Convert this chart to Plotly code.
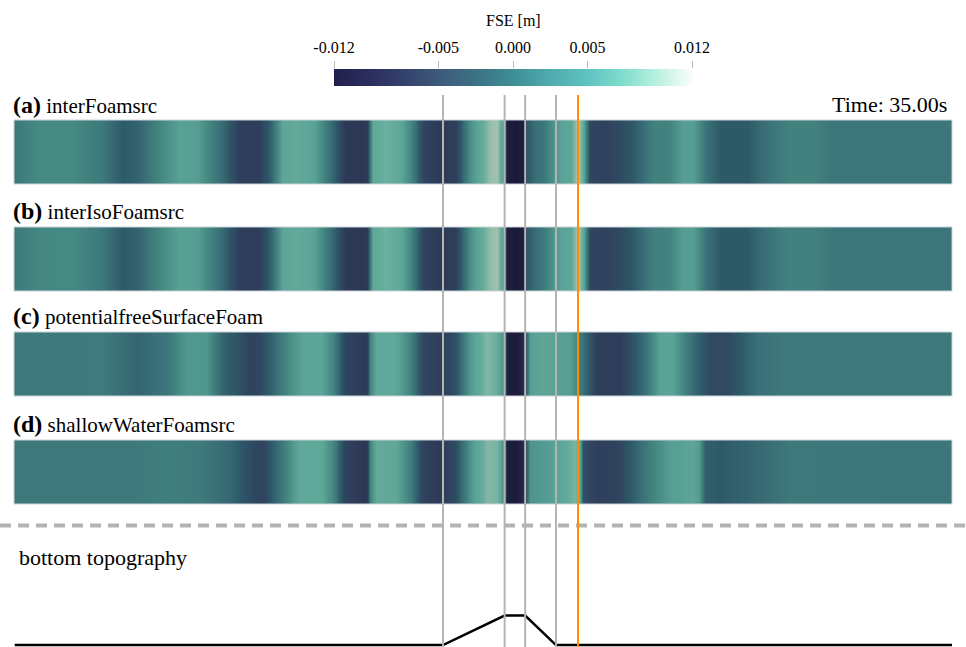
import plotly.graph_objects as go

W, H = 966, 647

# ---------------- data ----------------
# channel position [m] of the gauges / bar breakpoints (grey lines) and probe (orange)
gauge_x = [6.0, 12.0, 14.0, 17.0]
probe_x = 19.15
channel_range = [-35.77, 55.56]

# bottom topography (bar) [m]
bar_x = [-35.7, 6.0, 12.0, 14.0, 17.0, 55.56]
bar_z = [0.0, 0.0, 0.3, 0.3, 0.0, 0.0]

# colour bar ticks
cbar_ticks = [-0.012, -0.005, 0.0, 0.005, 0.012]
cbar_ticktext = ["-0.012", "-0.005", "0.000", "0.005", "0.012"]
cbar_range = [-0.012, 0.012]

# free surface elevation along the channel, read per solver
x_a = [-35.77, -33.53, -29.93, -27.40, -25.16, -23.50, -22.14, -19.71, -17.95, -15.52,
       -13.77, -11.92, -10.85, -9.58, -8.31, -6.56, -4.71, -3.54, -1.79, -1.40,
       -1.11, -0.82, 0.35, 1.52, 2.79, 4.05, 5.42, 7.17, 8.63, 9.60,
       10.57, 11.26, 11.84, 12.23, 13.01, 13.79, 14.18, 15.05, 15.74, 16.42,
       17.49, 18.37, 19.15, 19.63, 20.31, 21.68, 23.24, 24.50, 26.45, 28.10,
       29.37, 30.34, 31.70, 32.97, 35.60, 36.87, 39.50, 42.03, 43.98, 55.56]
fse_a = [-0.0012, 0.0004, 0.0004, -0.0010, -0.0040, -0.0030, -0.0005, 0.0028, 0.0025, -0.0025,
         -0.0070, -0.0070, -0.0035, 0.0035, 0.0045, 0.0030, -0.0030, -0.0075, -0.0080, -0.0075,
         -0.0010, 0.0040, 0.0055, 0.0045, 0.0005, -0.0060, -0.0075, -0.0070, 0.0010, 0.0040,
         0.0075, 0.0080, 0.0020, -0.0105, -0.0115, -0.0100, -0.0040, -0.0020, -0.0015, 0.0005,
         0.0030, 0.0035, 0.0090, 0.0040, -0.0060, -0.0065, -0.0055, -0.0040, -0.0005, 0.0000,
         0.0025, 0.0025, -0.0020, -0.0040, -0.0040, -0.0025, -0.0003, -0.0003, -0.0015, -0.0015]

x_b = x_a
fse_b = [-0.0012, 0.0003, 0.0004, -0.0010, -0.0040, -0.0030, -0.0005, 0.0027, 0.0025, -0.0025,
         -0.0070, -0.0070, -0.0035, 0.0035, 0.0045, 0.0030, -0.0030, -0.0075, -0.0080, -0.0075,
         -0.0010, 0.0040, 0.0055, 0.0045, 0.0005, -0.0060, -0.0075, -0.0070, 0.0010, 0.0040,
         0.0072, 0.0080, 0.0020, -0.0105, -0.0115, -0.0100, -0.0040, -0.0020, -0.0012, 0.0008,
         0.0030, 0.0035, 0.0088, 0.0040, -0.0060, -0.0065, -0.0055, -0.0040, -0.0005, 0.0000,
         0.0025, 0.0025, -0.0020, -0.0040, -0.0040, -0.0025, -0.0003, -0.0003, -0.0015, -0.0015]

x_c = [-35.77, -27.40, -23.80, -20.97, -18.90, -17.10, -15.52, -12.80, -11.92, -8.90,
       -7.44, -5.98, -4.71, -3.54, -1.79, -1.40, -1.11, -0.43, 1.23, 2.79,
       4.05, 5.71, 7.17, 8.63, 10.28, 11.26, 11.84, 12.23, 13.01, 13.79,
       14.47, 15.74, 17.10, 18.37, 19.63, 21.00, 23.24, 25.67, 27.13, 28.30,
       30.34, 32.00, 33.66, 36.70, 39.79, 55.56]
fse_c = [-0.0012, -0.0009, -0.0030, -0.0015, 0.0018, 0.0018, -0.0030, -0.0062, -0.0060, 0.0010,
         0.0035, 0.0035, 0.0000, -0.0060, -0.0075, -0.0070, 0.0000, 0.0040, 0.0040, 0.0000,
         -0.0060, -0.0070, -0.0050, 0.0020, 0.0065, 0.0050, 0.0010, -0.0100, -0.0115, -0.0090,
         0.0025, 0.0035, 0.0028, 0.0025, -0.0020, -0.0070, -0.0070, -0.0020, 0.0030, 0.0030,
         -0.0025, -0.0055, -0.0055, -0.0020, -0.0010, -0.0012]

x_d = [-35.77, -24.20, -20.97, -17.37, -14.60, -12.20, -11.40, -8.90, -7.93, -5.98,
       -4.71, -3.54, -1.79, -1.40, -1.11, -0.43, 1.23, 2.79, 4.05, 5.71,
       7.17, 8.63, 10.28, 11.26, 11.84, 12.23, 13.01, 13.79, 14.47, 16.42,
       17.68, 18.85, 19.34, 19.63, 21.00, 23.24, 25.86, 28.10, 30.34, 30.93,
       31.51, 32.97, 35.89, 39.79, 55.56]
fse_d = [-0.0012, -0.0012, -0.0005, -0.0012, -0.0030, -0.0062, -0.0060, 0.0010, 0.0040, 0.0040,
         0.0000, -0.0065, -0.0080, -0.0075, 0.0000, 0.0045, 0.0040, -0.0005, -0.0065, -0.0075,
         -0.0055, 0.0015, 0.0065, 0.0060, 0.0010, -0.0105, -0.0115, -0.0090, 0.0015, 0.0025,
         0.0040, 0.0060, 0.0030, -0.0050, -0.0070, -0.0060, -0.0010, 0.0025, 0.0032, 0.0020,
         -0.0035, -0.0040, -0.0030, -0.0012, -0.0015]

solver_letters = ["(a)", "(b)", "(c)", "(d)"]
solver_names = ["interFoamsrc", "interIsoFoamsrc", "potentialfreeSurfaceFoam", "shallowWaterFoamsrc"]
time_label = "Time: 35.00s"

# ---------------- styling ----------------
FONT = "Liberation Serif"

def cs_from(stops, vmin=-0.012, vmax=0.012):
    return [[(v - vmin) / (vmax - vmin), c] for v, c in stops]

bar_colorscale = cs_from([
    (-0.012, "#221f4d"), (-0.0096, "#2b2f5e"), (-0.0072, "#34436c"), (-0.005, "#3d5a7c"),
    (-0.0022, "#3b7585"), (0.0, "#3f8e96"), (0.0022, "#4ea8ac"), (0.005, "#5fc3c0"),
    (0.0072, "#7ddccc"), (0.009, "#a8ecda"), (0.0108, "#daf6ec"), (0.012, "#fafefb")])

strip_colorscale = cs_from([
    (-0.012, "#1a1736"), (-0.010, "#1f2142"), (-0.008, "#2d3754"), (-0.006, "#2f4560"),
    (-0.004, "#2e5a68"), (-0.002, "#3a7078"), (-0.001, "#3e7a7c"), (0.0, "#43847f"),
    (0.002, "#52998f"), (0.003, "#5aa396"), (0.005, "#66ac9c"), (0.007, "#8ebaa8"),
    (0.009, "#b8c8b8"), (0.012, "#dfe3d6")])

def py(px):
    return 1 - px / H

strip_tops = [120, 227, 332, 440]
strip_h = 64
label_mid = [105, 211, 316, 424]

fig = go.Figure()

strips = [(x_a, fse_a), (x_b, fse_b), (x_c, fse_c), (x_d, fse_d)]
yaxes = ["y", "y2", "y3", "y4"]
for (xs, zs), ya in zip(strips, yaxes):
    fig.add_trace(go.Heatmap(
        x=xs, y=[0, 1], z=[zs, zs], xaxis="x", yaxis=ya,
        colorscale=strip_colorscale, zmin=cbar_range[0], zmax=cbar_range[1],
        zsmooth="best", showscale=False, hoverinfo="skip"))

# topography
fig.add_trace(go.Scatter(x=bar_x, y=bar_z, xaxis="x", yaxis="y5", mode="lines",
                         line=dict(color="black", width=2.5), hoverinfo="skip", showlegend=False))

# colour bar as its own small heatmap
fig.add_trace(go.Heatmap(
    x=cbar_range, y=[0, 1], z=[cbar_range, cbar_range], xaxis="x2", yaxis="y6",
    colorscale=bar_colorscale, zmin=cbar_range[0], zmax=cbar_range[1],
    zsmooth="best", showscale=False, hoverinfo="skip"))

hidden = dict(visible=False, showgrid=False, zeroline=False, fixedrange=True, automargin=False)
layout = dict(
    width=W, height=H, margin=dict(l=0, r=0, t=0, b=0, pad=0, autoexpand=False),
    paper_bgcolor="white", plot_bgcolor="white", showlegend=False,
    font=dict(family=FONT, color="black"),
    xaxis=dict(hidden, domain=[14 / W, 952 / W], range=channel_range),
    xaxis2=dict(domain=[334 / W, 692 / W], range=cbar_range, anchor="y6", side="top",
                tickvals=cbar_ticks, ticktext=cbar_ticktext, ticks="outside", ticklen=7,
                tickcolor="#b8b8b8", tickwidth=1, showline=False, showgrid=False,
                zeroline=False, automargin=False, fixedrange=True,
                tickfont=dict(family=FONT, size=16, color="black"),
                ticklabelstandoff=2),
    yaxis6=dict(hidden, domain=[py(86), py(69)], range=[0, 1]),
    yaxis5=dict(hidden, domain=[0, py(569.4)], range=[-0.02, 0.77], anchor="x"),
)
for i, ya in enumerate(["yaxis", "yaxis2", "yaxis3", "yaxis4"]):
    t = strip_tops[i]
    layout[ya] = dict(hidden, domain=[py(t + strip_h), py(t)], range=[0, 1], anchor="x")
fig.update_layout(**layout)

shapes = []
# strip outlines
for ya in yaxes:
    shapes.append(dict(type="rect", xref="x domain", yref=f"{ya} domain", x0=0, x1=1, y0=0, y1=1,
                       line=dict(color="#c9d3d7", width=1), layer="above"))
# dashed separator
shapes.append(dict(type="line", xref="paper", yref="paper", x0=0, x1=1, y0=py(525.5), y1=py(525.5),
                   line=dict(color="#b3b3b3", width=4, dash="11px,7px")))
# gauge lines
for gx in gauge_x:
    shapes.append(dict(type="line", xref="x", yref="paper", x0=gx, x1=gx, y0=0, y1=py(95),
                       line=dict(color="#b4b4b4", width=2)))
shapes.append(dict(type="line", xref="x", yref="paper", x0=probe_x, x1=probe_x, y0=0, y1=py(95),
                   line=dict(color="#ff8c00", width=2)))
fig.update_layout(shapes=shapes)

ann = []
for i in range(4):
    ann.append(dict(xref="paper", yref="paper", x=11 / W, y=py(label_mid[i]), xanchor="left",
                    yanchor="middle", showarrow=False,
                    text=f"<b><span style='font-size:24px'>{solver_letters[i]}</span></b> "
                         f"<span style='font-size:21px'>{solver_names[i]}</span>",
                    font=dict(family=FONT, size=21, color="black")))
ann.append(dict(xref="paper", yref="paper", x=949 / W, y=py(104), xanchor="right", yanchor="middle",
                showarrow=False, text=time_label, font=dict(family=FONT, size=22, color="black")))
ann.append(dict(xref="paper", yref="paper", x=17 / W, y=py(557), xanchor="left", yanchor="middle",
                showarrow=False, text="bottom topography", font=dict(family=FONT, size=22, color="black")))
ann.append(dict(xref="paper", yref="paper", x=513 / W, y=py(20), xanchor="center", yanchor="middle",
                showarrow=False, text="FSE [m]", font=dict(family=FONT, size=16, color="black")))
fig.update_layout(annotations=ann)

fig.write_html("out.html", config={"displayModeBar": False, "staticPlot": True},
               post_script="document.body.style.margin='0';document.body.style.overflow='hidden';")
